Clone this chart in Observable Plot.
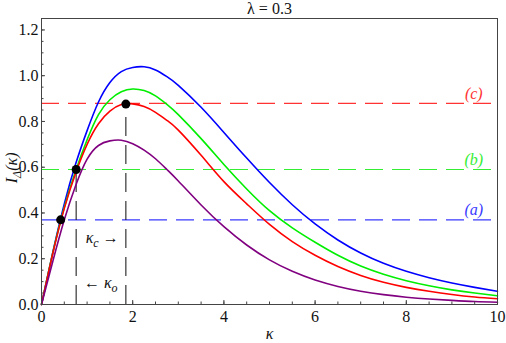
<!DOCTYPE html>
<html><head><meta charset="utf-8">
<script src="https://cdn.jsdelivr.net/npm/d3@7"></script>
<script src="https://cdn.jsdelivr.net/npm/@observablehq/plot@0.6"></script>
<style>
body{margin:0;background:#fff}
svg, svg text, svg tspan{font-family:"Liberation Serif",serif !important}
</style>
</head><body><div id="chart"></div>
<script>
// sample points of kappa
const kappa = [0,0.25,0.5,0.75,1,1.25,1.5,1.75,2,2.25,2.5,2.75,3,3.5,4,4.5,5,5.5,6,6.5,7,7.5,8,8.5,9,9.5,10];
// curve values
const blueI   = [0,0.23,0.44,0.615,0.76,0.885,0.97,1.018,1.036,1.039,1.025,0.996,0.958,0.862,0.752,0.64,0.533,0.436,0.352,0.282,0.225,0.18,0.145,0.117,0.094,0.075,0.058];
const greenI  = [0,0.228,0.425,0.585,0.72,0.83,0.895,0.93,0.942,0.935,0.912,0.875,0.83,0.725,0.612,0.505,0.41,0.335,0.272,0.215,0.168,0.132,0.104,0.082,0.064,0.05,0.038];
const redI    = [0,0.225,0.42,0.575,0.70,0.79,0.845,0.874,0.877,0.865,0.84,0.805,0.762,0.652,0.537,0.44,0.35,0.275,0.215,0.166,0.127,0.097,0.075,0.058,0.044,0.033,0.025];
const purpleI = [0,0.19,0.37,0.52,0.635,0.695,0.715,0.718,0.703,0.675,0.637,0.59,0.54,0.435,0.34,0.26,0.195,0.145,0.107,0.079,0.058,0.043,0.032,0.024,0.018,0.013,0.010];
const seriesNames = ["blue","green","red","purple"];
const seriesColors = ["#0000ff","#00ee00","#ff0000","#800080"];

// horizontal reference levels (a), (b), (c)
const levelNames = ["(a)","(b)","(c)"];
const levelValues = [0.37,0.59,0.879];
const levelColors = ["#3a3aff","#33ee33","#ff3333"];
const levelLabelK = [9.48,9.48,9.48];

// marked points
const dotK = [0.42,0.76,1.85];
const dotI = [0.37,0.59,0.876];

// annotations
const annoText = ["κ_c →","← κ_o"];
const annoK = [1.33,1.3];
const annoI = [0.29,0.095];

// y-axis title and its anchor (start of rotated text)
const yTitle = "I_Δ(κ)";
const yTitleAt = 0.53;

const majorX = [0,2,4,6,8,10];
const minorX = d3.range(0,10.001,0.5);
const majorY = [0,0.2,0.4,0.6,0.8,1.0,1.2];
const minorY = d3.range(0,1.2501,0.05);

const curves = [blueI,greenI,redI,purpleI];
const data = [];
curves.forEach((arr,i)=>arr.forEach((v,j)=>data.push({k:kappa[j],I:v,s:seriesNames[i],c:seriesColors[i]})));
const levels = levelValues.map((v,i)=>({v,name:levelNames[i],c:levelColors[i],lk:levelLabelK[i]}));
const dots = dotK.map((k,i)=>({k,I:dotI[i]}));
const annos = annoText.map((t,i)=>({t,k:annoK[i],I:annoI[i]}));

const axisColor = "#444";
const FS = 16;
const plot = Plot.plot({
  width:506, height:343,
  marginLeft:41, marginRight:9, marginTop:18, marginBottom:39,
  style:{color:"#111", background:"#fff"},
  x:{domain:[0,10]},
  y:{domain:[0,1.25]},
  marks:[
    Plot.ruleY(levels,{y:"v",stroke:"c",strokeWidth:1.2,strokeDasharray:"18,9"}),
    Plot.ruleX(dots.slice(1),{x:"k",y1:0,y2:"I",stroke:"#222",strokeWidth:1.1,strokeDasharray:"19,9"}),
    Plot.line(data,{x:"k",y:"I",z:"s",stroke:"c",strokeWidth:1.6,curve:"natural"}),
    Plot.dot(dots,{x:"k",y:"I",r:4.5,fill:"#000"}),
    Plot.text(levels,{x:"lk",y:d=>d.v+0.042,text:"name",fill:"c",fontSize:FS,fontStyle:"italic"}),
    Plot.text(annos,{x:"k",y:"I",text:"t",fontSize:FS,fontStyle:"italic",fill:"#111"}),
    Plot.frame({stroke:axisColor}),
    Plot.axisX({ticks:majorX,tickSize:0,tickPadding:6,fontSize:FS,label:null,tickFormat:d=>String(d)}),
    Plot.axisX({ticks:majorX,tickSize:-4,stroke:axisColor,tickFormat:()=>"",label:null}),
    Plot.axisX({ticks:minorX,tickSize:-2.5,stroke:axisColor,tickFormat:()=>"",label:null}),
    Plot.axisY({ticks:majorY,tickSize:0,tickPadding:3,fontSize:FS,label:null,tickFormat:d3.format(".1f")}),
    Plot.axisY({ticks:majorY,tickSize:-4,stroke:axisColor,tickFormat:()=>"",label:null}),
    Plot.axisY({ticks:minorY,tickSize:-2.5,stroke:axisColor,tickFormat:()=>"",label:null}),
    Plot.text(["λ = 0.3"],{frameAnchor:"top",lineAnchor:"middle",dy:-10,fontSize:FS}),
    Plot.text(["κ"],{frameAnchor:"bottom",lineAnchor:"middle",dy:29,fontSize:FS,fontStyle:"italic"}),
    Plot.text([yTitle],{y:()=>yTitleAt,frameAnchor:"left",dx:-30,rotate:-90,fontSize:FS,fontStyle:"italic"})
  ]
});
// font + subscripts
d3.select(plot).attr("font-family","Liberation Serif").style("font-family","'Liberation Serif', serif");
d3.select(plot).selectAll("g").each(function(){
  if (this.getAttribute("font-family")) this.setAttribute("font-family","Liberation Serif");
});
d3.select(plot).selectAll("text").each(function(){
  this.style.fontFamily = "'Liberation Serif', serif";
  const t = this.textContent;
  const m = t.match(/^(.*?)_(\S)(.*)$/);
  if(!m) return;
  const el = d3.select(this);
  el.text(null);
  el.append("tspan").text(m[1]);
  el.append("tspan").attr("dy","4").attr("font-size","0.75em").text(m[2]);
  el.append("tspan").attr("dy","-4").text(m[3]);
});
document.getElementById("chart").appendChild(plot);
</script>
</body></html>
